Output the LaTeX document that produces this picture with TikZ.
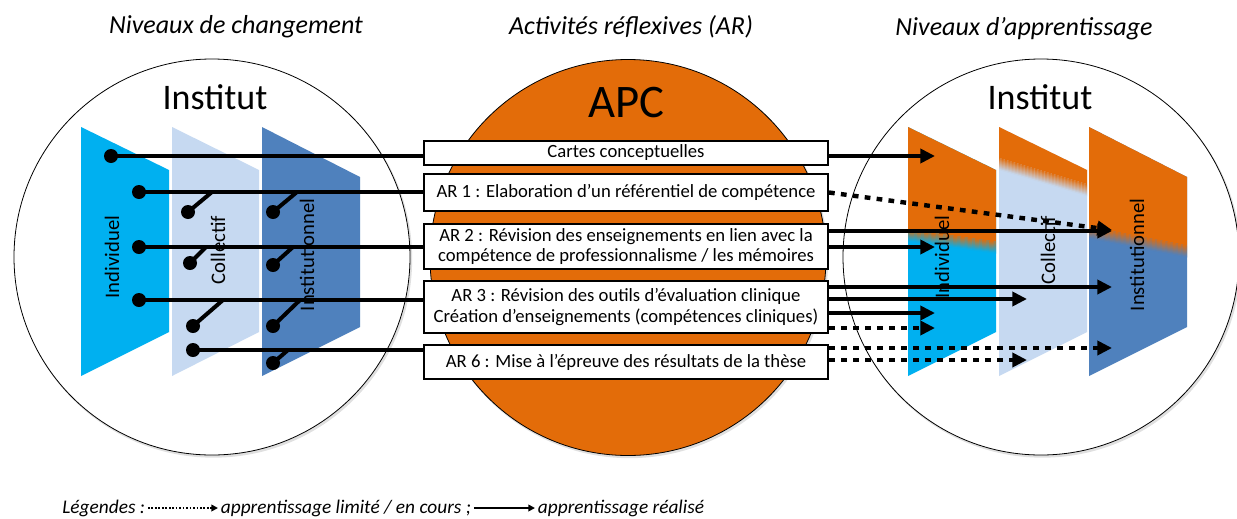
\documentclass[tikz,border=0pt]{standalone}
\usepackage{fontspec}
\setmainfont{Carlito}
\usetikzlibrary{arrows.meta}
\definecolor{apcorange}{HTML}{E36C09}
\definecolor{indivc}{HTML}{00B0F0}
\definecolor{collc}{HTML}{C6D9F1}
\definecolor{instc}{HTML}{4F81BD}
\newcommand{\apcband}[5]{%
  \fill[apcorange] (#1-3,110) -- (#3+3,110) -- (#3+3,#4-6) -- (#1-3,#2-6) -- cycle;
  \foreach \k in {0,...,11}{%
    \pgfmathsetmacro{\ya}{#2-6+\k}%
    \pgfmathsetmacro{\yb}{#4-6+\k}%
    \pgfmathtruncatemacro{\pc}{100-(\k+0.5)*100/12}%
    \fill[apcorange!\pc!#5] (#1-3,\ya) -- (#3+3,\yb) -- (#3+3,\yb+1.1) -- (#1-3,\ya+1.1) -- cycle;
  }%
}
\begin{document}
\begin{tikzpicture}[x=0.75pt,y=-0.75pt,
  hdr/.style={font=\fontsize{19.5}{22}\selectfont\itshape, inner sep=0pt},
  big/.style={font=\fontsize{27}{30}\selectfont, inner sep=0pt},
  apc/.style={font=\fontsize{35}{38}\selectfont, inner sep=0pt},
  ring/.style={circle, draw=black, line width=0.6pt, fill=white, minimum size=297pt, inner sep=0pt},
  shadowc/.style={circle, fill=black!12, minimum size=298pt, inner sep=0pt},
  box/.style={draw=black, line width=1.5pt, fill=white, minimum width=303pt, inner sep=0pt,
    align=center, font=\fontsize{14}{15.5}\selectfont},
  trap/.style={rotate=90, font=\fontsize{15.5}{17}\selectfont, inner sep=0pt},
  conn/.style={line width=3pt},
  arr/.style={line width=3pt, -{Triangle[length=11pt,width=10.5pt]}},
  darr/.style={line width=3.3pt, dash pattern=on 4.3pt off 4.7pt, -{Triangle[length=11pt,width=10.5pt]}},
  dot/.style={circle, fill=black, inner sep=0pt, minimum size=10.5pt},
  leg/.style={font=\fontsize{14.5}{16}\selectfont\itshape, inner sep=2pt},
  legd/.style={line width=1.3pt, dash pattern=on 1.3pt off 1.3pt, -{Triangle[length=5pt,width=5pt]}},
  legs/.style={line width=1.3pt, -{Triangle[length=5pt,width=5pt]}}
]
\useasboundingbox (0,0) rectangle (1237,518);

% headers
\node[hdr] (h1) at (236,27) {Niveaux de changement};
\node[hdr] (h2) at (631,27) {Activités réflexives (AR)};
\node[hdr] (h3) at (1024,29) {Niveaux d’apprentissage};

% circles
\node[shadowc] (ls) at (213.5,259) {};
\node[ring] (lc) at (212,257) {};
\node[shadowc] (rs) at (1042.5,259) {};
\node[ring] (rc) at (1041,257) {};
\node[shadowc] (cs) at (629.5,259.5) {};
\node[ring, fill=apcorange] (cc) at (628,257.5) {};

\node[big] (li) at (215,97) {Institut};
\node[big] (ri) at (1040,97) {Institut};
\node[apc] (apc) at (626,103) {APC};

% left trapezoids
\fill[indivc] (81,127) -- (169,170) -- (169,332) -- (81,376) -- cycle;
\fill[collc] (172,127) -- (259,170) -- (259,332) -- (172,376) -- cycle;
\fill[instc] (262,127) -- (360,177) -- (360,327) -- (262,376) -- cycle;
\node[trap] (lt1) at (112,257) {Individuel};
\node[trap] (lt2) at (218,250) {Collectif};
\node[trap] (lt3) at (307,255) {Institutionnel};

% right trapezoids
\fill[indivc] (908,127) -- (996,170) -- (996,332) -- (908,376) -- cycle;
\fill[collc] (999,127) -- (1087,170) -- (1087,332) -- (999,376) -- cycle;
\fill[instc] (1089,127) -- (1187,177) -- (1187,327) -- (1089,376) -- cycle;
\begin{scope}
  \clip (908,127) -- (996,170) -- (996,332) -- (908,376) -- cycle;
  \apcband{908}{235}{996}{248}{indivc}
\end{scope}
\begin{scope}
  \clip (999,127) -- (1087,170) -- (1087,332) -- (999,376) -- cycle;
  \apcband{999}{163}{1087}{191}{collc}
\end{scope}
\begin{scope}
  \clip (1089,127) -- (1187,177) -- (1187,327) -- (1089,376) -- cycle;
  \apcband{1089}{232}{1187}{252}{instc}
\end{scope}
\node[trap] (rt1) at (942,257) {Individuel};
\node[trap] (rt2) at (1048,250) {Collectif};
\node[trap] (rt3) at (1137,255) {Institutionnel};

% boxes
\node[box, minimum height=18pt] (b1) at (626,153) {Cartes conceptuelles};
\node[box, minimum height=27.75pt] (b2) at (626,192.5) {AR 1 : Elaboration d’un référentiel de compétence};
\node[box, minimum height=33.75pt] (b3) at (626,246.5) {AR 2 : Révision des enseignements en lien avec la\\compétence de professionnalisme / les mémoires};
\node[box, minimum height=39pt] (b4) at (626,307) {AR 3 : Révision des outils d’évaluation clinique\\Création d’enseignements (compétences cliniques)};
\node[box, minimum height=25.5pt] (b5) at (626,362) {AR 6 : Mise à l’épreuve des résultats de la thèse};

% left dots and lines
\node[dot] (d1) at (111,156) {};
\node[dot] (d2) at (139,192) {};
\node[dot] (d3) at (139,247) {};
\node[dot] (d4) at (139,300) {};
\node[dot] (d5) at (193,350) {};
\draw[conn] (d1.center) -- (b1.west |- d1.center);
\draw[conn] (d2.center) -- (b2.west |- d2.center);
\draw[conn] (d3.center) -- (b3.west |- d3.center);
\draw[conn] (d4.center) -- (b4.west |- d4.center);
\draw[conn] (d5.center) -- (b5.west |- d5.center);

% switches
\node[dot] (c2) at (188,212) {};
\node[dot] (c3) at (190,263) {};
\node[dot] (c4) at (193,326) {};
\node[dot] (i2) at (273,212) {};
\node[dot] (i3) at (273,265) {};
\node[dot] (i4) at (273,326) {};
\node[dot] (i5) at (273,363) {};
\coordinate (c2e) at (212,192);
\coordinate (c3e) at (206,247);
\coordinate (c4e) at (223,300);
\coordinate (i2e) at (297,192);
\coordinate (i3e) at (293,247);
\coordinate (i4e) at (300,300);
\coordinate (i5e) at (288,350);
\draw[conn] (c2.center) -- (c2e);
\draw[conn] (c3.center) -- (c3e);
\draw[conn] (c4.center) -- (c4e);
\draw[conn] (i2.center) -- (i2e);
\draw[conn] (i3.center) -- (i3e);
\draw[conn] (i4.center) -- (i4e);
\draw[conn] (i5.center) -- (i5e);

% right arrows
\coordinate (t1) at (935,156);
\coordinate (t2) at (1112,230);
\coordinate (t3a) at (1112,231);
\coordinate (t3b) at (935,247);
\coordinate (t4a) at (1112,287);
\coordinate (t4b) at (1027,299);
\coordinate (t4c) at (935,313);
\coordinate (t4d) at (935,328);
\coordinate (t5a) at (1112,348);
\coordinate (t5b) at (1027,360);
\draw[arr] (b1.east |- t1) -- (t1);
\draw[darr] (b2.east) -- (t2);
\draw[arr] (b3.east |- t3a) -- (t3a);
\draw[arr] (b3.east |- t3b) -- (t3b);
\draw[arr] (b4.east |- t4a) -- (t4a);
\draw[arr] (b4.east |- t4b) -- (t4b);
\draw[arr] (b4.east |- t4c) -- (t4c);
\draw[darr] (b4.east |- t4d) -- (t4d);
\draw[darr] (b5.east |- t5a) -- (t5a);
\draw[darr] (b5.east |- t5b) -- (t5b);

% legend
\node[leg, anchor=east] (g1) at (148,508) {Légendes :};
\node[leg, anchor=west] (g2) at (218,508) {apprentissage limité / en cours ;};
\node[leg, anchor=west] (g3) at (535,508) {apprentissage réalisé};
\draw[legd] (g1.east) -- (g2.west);
\draw[legs] (g2.east) -- (g3.west);
\end{tikzpicture}
\end{document}
